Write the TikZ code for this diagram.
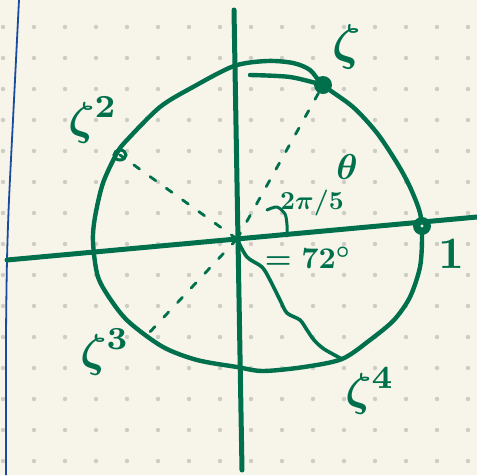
\documentclass[tikz,border=0pt]{standalone}

\begin{document}
\begin{tikzpicture}[x=1pt, y=-1pt,
    pen/.style={penColour, line width=4.4pt, line cap=round, line join=round},
    dashline/.style={penColour, line width=2.8pt, line cap=round, dash pattern=on 7pt off 13pt},
    handlabel/.style={text=penColour, inner sep=0pt, font=\boldmath}]
    % Define colours
    \definecolor{paperColour}{HTML}{F7F5EA}
    \definecolor{dotColour}{HTML}{CDCDC6}
    \definecolor{penColour}{HTML}{00704C}
    \definecolor{marginColour}{HTML}{1A4C9E}

    % Paper and dotted grid
    \fill[paperColour] (0,0) rectangle (477,475);
    \useasboundingbox (0,0) rectangle (477,475);
    \foreach \i in {0,...,15}
        \foreach \j in {0,...,14}
            \fill[dotColour] (3+31*\i,27+31*\j) circle (2.2pt);

    % Margin line
    \draw[marginColour, line width=1.8pt] plot[smooth] coordinates
        {(19,0) (16,60) (13,120) (9,200) (7,260) (6,340) (6,475)};

    % Define the points
    \coordinate (O) at (237,239);
    \coordinate (zeta1) at (323,85);
    \coordinate (zeta2) at (120,155);
    \coordinate (zeta3) at (149,333);
    \coordinate (zeta4) at (342,359);
    \coordinate (one) at (422,226);
    \coordinate (xL) at (7,260);
    \coordinate (xR) at (477,217);
    \coordinate (yT) at (234,10);
    \coordinate (yB) at (242,470);

    % Draw axes
    \draw[pen, line width=5pt] (xL) -- (xR);
    \draw[pen, line width=5pt] (yT) -- (yB);

    % Draw the unit circle
    \draw[pen] plot[smooth cycle] coordinates
        {(234,66) (267,61) (293,63) (310,70) (zeta1) (353,107) (377,133)
         (397,163) (410,187) (420,213) (422,237) (420,267) (410,297)
         (394,320) (370,340) (zeta4) (304,367) (263,371) (237,367)
         (197,360) (163,347) (130,323) (113,303) (98,277) (93,242)
         (95,217) (103,183) (117,153) (127,140) (160,107) (193,87)};
    \draw[pen] plot[smooth] coordinates {(250,75) (290,77) (zeta1)};

    % Dashed radii
    \draw[dashline] (O) -- (zeta1);
    \draw[dashline] (O) -- (zeta2);
    \draw[dashline] (O) -- (zeta3);

    % Wavy radius to zeta^4
    \draw[pen, line width=3.6pt] plot[smooth] coordinates
        {(O) (247,257) (262,267) (270,280) (280,300) (287,313) (300,320)
         (307,330) (314,340) (324,349) (zeta4)};

    % Angle mark
    \draw[pen, line width=3pt] plot[smooth] coordinates
        {(267,210) (277,207) (285,214) (287,225) (287,236)};

    % Roots of unity
    \fill[penColour] (zeta1) circle (9pt);
    \fill[penColour] (one) circle (9pt);
    \fill[paperColour] (one) circle (1.6pt);
    \draw[penColour, line width=3pt] (zeta2) ellipse (6pt and 5pt);

    % Labels
    \node[handlabel, scale=5] (lzeta1) at (347,47) {$\zeta$};
    \node[handlabel, scale=4.6] (lzeta2) at (93,120) {$\zeta^2$};
    \node[handlabel, scale=4.6] (lzeta3) at (105,352) {$\zeta^3$};
    \node[handlabel, scale=4.6] (lzeta4) at (370,391) {$\zeta^4$};
    \node[handlabel, scale=4.5] (lone) at (451,254) {$1$};
    \node[handlabel, scale=3.6] (ltheta) at (347,167) {$\theta$};
    \node[handlabel, scale=2.6] (lfrac) at (312,203) {$2\pi/5$};
    \node[handlabel, scale=3] (ldeg) at (308,258) {$=72^\circ$};
\end{tikzpicture}
\end{document}
